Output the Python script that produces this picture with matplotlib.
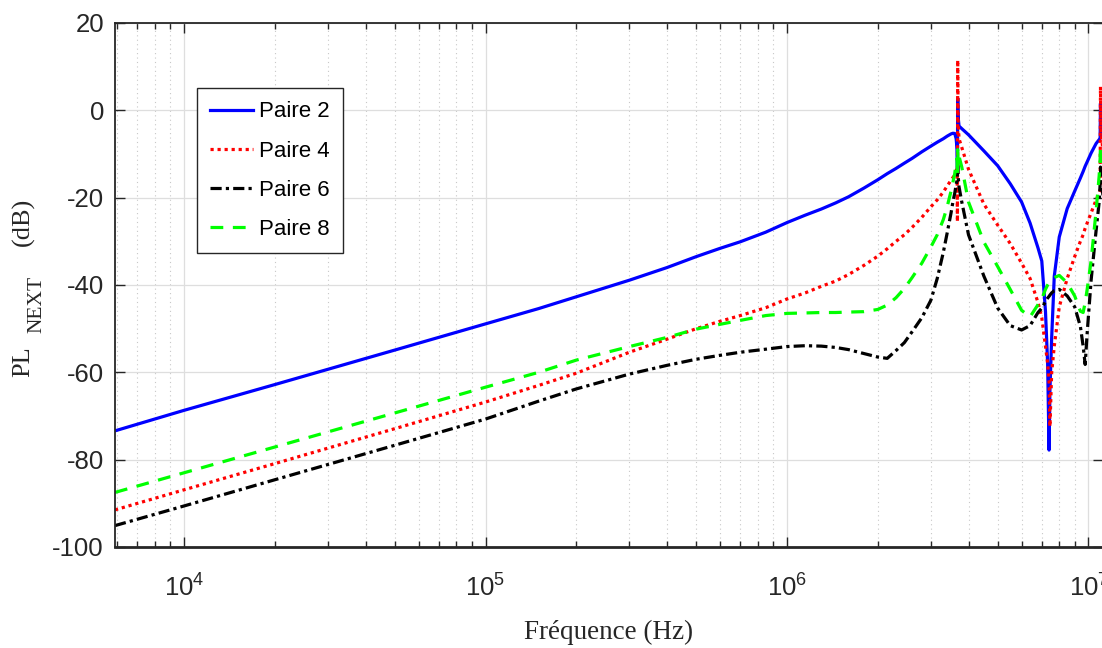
import matplotlib
matplotlib.use("Agg")
import matplotlib.pyplot as plt
from matplotlib.ticker import LogLocator, LogFormatterMathtext, NullFormatter

plt.rcParams["font.family"] = ["Liberation Sans", "DejaVu Sans"]
plt.rcParams["mathtext.default"] = "regular"
plt.rcParams["axes.unicode_minus"] = False

# Frequency grid (Hz), shared by every pair
freq = [5.9e3, 1e4, 2e4, 5e4, 1e5, 1.5e5, 2e5, 3e5, 4e5, 5e5,
        6e5, 7e5, 8.5e5, 1e6, 1.15e6, 1.3e6, 1.45e6, 1.6e6, 1.8e6, 2e6,
        2.15e6, 2.3e6, 2.45e6, 2.6e6, 2.8e6, 3e6, 3.15e6, 3.3e6, 3.4e6, 3.5e6,
        3.55e6, 3.6e6, 3.64e6, 3.665e6, 3.675e6, 3.683e6, 3.695e6, 3.72e6, 3.8e6, 4e6,
        4.5e6, 5e6, 5.5e6, 6e6, 6.4e6, 6.8e6, 7e6, 7.2e6, 7.32e6, 7.4e6,
        7.45e6, 7.55e6, 7.7e6, 8e6, 8.5e6, 9e6, 9.4e6, 9.6e6, 9.75e6, 9.9e6,
        1.02e7, 1.06e7, 1.085e7, 1.093e7, 1.096e7, 1.1e7, 1.12e7]

# NEXT power loss (dB) for each pair
paire2 = [-73.4, -68.7, -62.8, -54.9, -48.9, -45.4, -42.7, -38.9, -36.0, -33.5,
          -31.6, -30.1, -27.9, -25.7, -24.0, -22.6, -21.2, -19.8, -17.8, -15.9,
          -14.5, -13.3, -12.1, -11.0, -9.5, -8.2, -7.3, -6.5, -5.9, -5.4,
          -5.25, -5.3, -6.5, -9.0, -14.0, 2.8, -1.5, -3.6, -4.2, -5.6,
          -9.3, -12.7, -16.8, -21.0, -25.8, -31.5, -34.5, -46.0, -58.0, -77.8,
          -64.0, -52.0, -38.0, -29.0, -22.5, -18.5, -15.5, -14.0, -12.8, -11.8,
          -9.8, -7.6, -6.7, -6.4, 1.6, -3.0, -6.0]

paire4 = [-91.5, -86.9, -80.9, -72.9, -66.8, -63.0, -60.2, -55.4, -52.4, -50.0,
          -48.3, -47.0, -45.2, -43.2, -41.8, -40.3, -39.1, -37.6, -35.5, -33.4,
          -31.7, -30.0, -28.5, -26.8, -24.5, -22.1, -20.5, -18.7, -17.3, -16.0,
          -15.4, -14.8, -14.0, -13.0, -25.5, 11.5, -3.0, -6.5, -8.5, -13.5,
          -21.5, -26.3, -30.5, -35.0, -38.5, -44.0, -47.5, -54.0, -58.0, -62.0,
          -72.4, -60.0, -54.0, -45.0, -38.5, -33.5, -30.0, -28.5, -27.0, -25.8,
          -23.5, -20.5, -19.0, -18.5, 5.4, -5.0, -10.0]

paire6 = [-95.1, -90.6, -84.6, -76.7, -70.7, -66.6, -63.8, -60.4, -58.4, -57.0,
          -56.1, -55.4, -54.7, -54.1, -53.9, -54.0, -54.3, -54.8, -55.7, -56.5,
          -56.8, -55.0, -53.2, -50.7, -47.5, -43.5, -38.5, -32.5, -28.0, -23.5,
          -21.0, -19.0, -17.0, -16.0, -14.5, -11.0, -15.0, -17.5, -21.0, -28.5,
          -38.0, -45.3, -49.3, -50.3, -49.3, -46.3, -45.3, -43.8, -43.0, -42.6,
          -42.3, -41.8, -41.3, -41.0, -42.5, -45.0, -49.5, -54.0, -58.2, -51.0,
          -39.0, -27.5, -21.0, -17.0, -13.0, -16.0, -20.0]

paire8 = [-87.5, -83.0, -77.1, -69.3, -63.4, -60.0, -57.2, -54.1, -52.0, -50.1,
          -49.0, -48.1, -47.0, -46.5, -46.4, -46.3, -46.3, -46.2, -46.1, -45.6,
          -44.6, -42.9, -40.8, -38.3, -35.0, -31.3, -28.5, -25.0, -22.0, -18.5,
          -16.5, -14.5, -12.0, -11.0, -15.0, -9.0, -12.0, -10.5, -13.0, -21.0,
          -30.2, -35.8, -41.0, -45.8, -47.3, -44.5, -43.2, -41.0, -40.0, -39.5,
          -39.2, -38.8, -38.3, -37.8, -39.5, -42.5, -46.0, -46.3, -44.0, -41.0,
          -34.5, -23.0, -15.0, -11.0, -8.0, -12.0, -14.0]

labels = ["Paire 2", "Paire 4", "Paire 6", "Paire 8"]
y_ticks = [-100, -80, -60, -40, -20, 0, 20]

fig = plt.figure(figsize=(11.02, 6.48), dpi=100)
ax = fig.add_axes([115 / 1102, 1 - 547 / 648, 987.5 / 1102, 524 / 648])

lw = 2.3
ax.plot(freq, paire2, color="#0000FF", lw=lw, ls="-", label=labels[0])
ax.plot(freq, paire4, color="#FF0000", lw=lw, ls=(0, (1, 1.2)), label=labels[1])
ax.plot(freq, paire6, color="#000000", lw=lw, ls=(0, (3.5, 1.3, 1, 1.3)), label=labels[2])
ax.plot(freq, paire8, color="#00FF00", lw=lw, ls=(0, (4, 3)), label=labels[3])

ax.set_xscale("log")
ax.set_xlim(5.9e3, 1.113e7)
ax.set_ylim(-100, 20)
ax.set_yticks(y_ticks)
ax.xaxis.set_major_locator(LogLocator(base=10))
ax.xaxis.set_minor_locator(LogLocator(base=10, subs=range(2, 10)))
ax.xaxis.set_major_formatter(LogFormatterMathtext())
ax.xaxis.set_minor_formatter(NullFormatter())

ax.grid(which="major", color="#dedede", lw=0.9, ls="-")
ax.grid(which="minor", axis="x", color="#c8c8c8", lw=0.8, ls=(0, (1, 3)))
ax.set_axisbelow(True)

ax.tick_params(which="both", direction="in", top=True, right=True,
               colors="#262626", labelsize=18.5, width=1.0)
ax.tick_params(which="major", length=7)
ax.tick_params(which="minor", length=4)
ax.tick_params(axis="x", pad=20)
ax.tick_params(axis="y", pad=8)
for sp in ax.spines.values():
    sp.set_color("#262626")
    sp.set_linewidth(1.3)
ax.spines["bottom"].set_linewidth(2.0)

ax.set_xlabel("Fréquence (Hz)", family="Liberation Serif", fontsize=19.5,
              color="#262626", labelpad=13)

# y-axis title: PL with a NEXT subscript, then the unit
serif = "Liberation Serif"
fig.text(23 / 1102, 1 - 362 / 648, "PL", family=serif, fontsize=19, rotation=90,
         ha="center", va="center", color="#262626")
fig.text(37 / 1102, 1 - 304 / 648, "NEXT", family=serif, fontsize=15.5, rotation=90,
         ha="center", va="center", color="#262626")
fig.text(23 / 1102, 1 - 222 / 648, "(dB)", family=serif, fontsize=19, rotation=90,
         ha="center", va="center", color="#262626")

leg = ax.legend(loc="upper left", bbox_to_anchor=(0.083, 0.876), borderaxespad=0,
                fancybox=False, framealpha=1, edgecolor="#262626", fontsize=16,
                handlelength=1.9, handletextpad=0.3, labelspacing=0.82, borderpad=0.6)
leg.get_frame().set_linewidth(1.0)

fig.savefig("out.png", dpi=100)
